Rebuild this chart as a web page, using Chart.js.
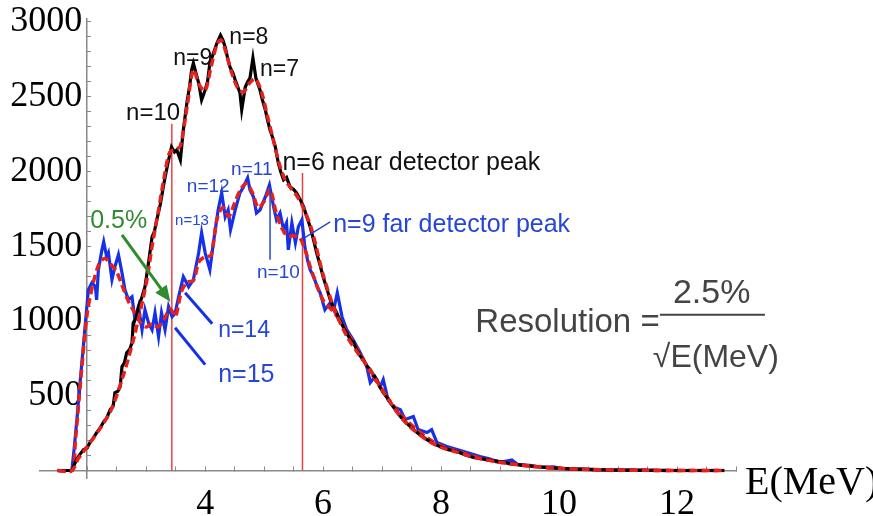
<!DOCTYPE html>
<html>
<head>
<meta charset="utf-8">
<script src="https://cdn.jsdelivr.net/npm/chart.js@4/dist/chart.umd.min.js"></script>
<style>
html,body{margin:0;padding:0;background:#fff;}
#wrap{width:873px;height:516px;}
</style>
</head>
<body>
<div id="wrap"><canvas id="c" width="873" height="516"></canvas></div>
<script>
// ---- Data ----
const nearX = [1.50,1.60,1.74,1.82,1.88,1.94,2.00,2.05,2.10,2.16,2.22,2.28,2.33,2.39,2.44,2.47,2.52,2.56,2.59,2.63,2.67,2.72,2.76,2.78,2.83,2.87,2.92,2.98,3.04,3.10,3.14,3.18,3.24,3.29,3.34,3.38,3.43,3.48,3.52,3.58,3.63,3.69,3.74,3.77,3.80,3.85,3.89,3.94,4.00,4.04,4.08,4.14,4.20,4.26,4.30,4.34,4.38,4.42,4.47,4.51,4.55,4.59,4.62,4.68,4.72,4.76,4.81,4.86,4.93,4.97,5.02,5.06,5.10,5.15,5.19,5.24,5.28,5.33,5.38,5.44,5.50,5.55,5.60,5.67,5.72,5.78,5.84,5.89,5.95,6.00,6.06,6.12,6.17,6.23,6.28,6.34,6.40,6.46,6.51,6.57,6.62,6.68,6.74,6.80,6.85,6.91,6.96,7.02,7.08,7.14,7.22,7.31,7.42,7.53,7.64,7.76,7.87,7.98,8.12,8.27,8.40,8.55,8.70,8.85,9.00,9.15,9.30,9.45,9.60,9.80,10.00,10.30,10.60,11.00,11.50,12.00,12.50,12.80];
const nearY = [0,0,0,73,110,140,150,190,215,254,285,327,350,407,430,520,530,561,695,720,788,810,855,988,1020,1096,1150,1229,1389,1563,1600,1677,1780,1897,2000,2077,2164,2130,2144,2077,2278,2458,2580,2679,2725,2650,2592,2478,2545,2600,2725,2790,2859,2912,2880,2832,2760,2699,2660,2612,2570,2525,2412,2565,2600,2625,2759,2625,2545,2480,2412,2340,2278,2220,2164,2057,2000,1944,1960,1897,1880,1857,1820,1764,1700,1630,1540,1456,1370,1296,1220,1142,1100,1055,1010,962,920,875,860,808,770,741,700,675,640,608,560,521,490,454,410,361,315,274,240,207,180,160,140,127,105,87,78,68,60,48,40,33,27,20,14,9,6,3,1,0,0,0];

const nearFitX = [1.50,1.74,1.85,2.00,2.20,2.40,2.60,2.80,3.00,3.10,3.20,3.30,3.40,3.50,3.58,3.70,3.80,3.90,4.00,4.10,4.20,4.27,4.35,4.45,4.55,4.65,4.75,4.85,4.95,5.05,5.15,5.25,5.35,5.45,5.55,5.65,5.80,6.00,6.20,6.40,6.60,6.80,7.00,7.20,7.40,7.60,7.80,8.00,8.30,8.60,9.00,9.50,10.00,10.50,11.00,11.50,12.00,12.80];
const nearFitY = [0,0,80,160,270,400,620,900,1250,1500,1720,1950,2130,2150,2170,2450,2680,2580,2540,2700,2850,2880,2800,2660,2560,2530,2590,2620,2540,2380,2220,2060,1950,1890,1840,1770,1620,1310,1070,900,780,670,540,420,320,250,195,155,120,85,55,30,15,7,3,1,0,0];

const farX = [1.50,1.60,1.74,1.78,1.83,1.87,1.91,1.97,2.02,2.08,2.14,2.16,2.19,2.25,2.28,2.33,2.36,2.42,2.47,2.53,2.59,2.64,2.70,2.76,2.81,2.87,2.93,2.98,3.04,3.10,3.15,3.21,3.26,3.32,3.38,3.44,3.49,3.55,3.63,3.72,3.80,3.89,3.94,4.00,4.08,4.14,4.22,4.28,4.34,4.39,4.43,4.51,4.59,4.65,4.72,4.76,4.82,4.87,4.93,5.02,5.09,5.16,5.21,5.27,5.33,5.38,5.41,5.47,5.53,5.58,5.64,5.69,5.74,5.78,5.84,5.90,5.95,6.03,6.12,6.18,6.24,6.32,6.40,6.51,6.63,6.74,6.80,6.88,6.97,7.02,7.10,7.19,7.31,7.39,7.53,7.61,7.76,7.84,7.93,8.10,8.27,8.44,8.66,8.80,9.00,9.20,9.30,9.50,9.70,9.90,10.10,10.40,10.70,11.00,11.50,12.00,12.80];
const farY = [0,0,0,150,361,550,721,988,1209,1256,1229,1142,1343,1476,1530,1430,1456,1276,1363,1443,1323,1209,1142,1162,1009,1096,942,1075,988,942,1055,895,1055,942,1096,1029,1050,1162,1296,1229,1276,1456,1590,1456,1343,1523,1743,1857,1697,1743,1610,1743,1857,1897,1957,1877,1830,1723,1743,1830,1910,1764,1677,1723,1610,1657,1476,1657,1523,1630,1677,1496,1400,1343,1296,1229,1189,1075,1122,1075,1189,1029,942,875,788,695,588,628,561,608,474,427,407,341,361,274,254,274,187,160,140,120,94,80,55,70,40,35,22,25,12,10,5,3,1,0,0];

const farFitX = [1.50,1.74,1.80,1.90,2.00,2.10,2.20,2.30,2.40,2.50,2.60,2.70,2.80,2.90,3.00,3.10,3.20,3.30,3.40,3.45,3.50,3.60,3.70,3.80,3.90,4.00,4.10,4.20,4.30,4.40,4.50,4.60,4.70,4.80,4.90,5.00,5.10,5.20,5.30,5.40,5.50,5.60,5.70,5.80,6.00,6.20,6.40,6.60,6.80,7.00,7.20,7.40,7.60,7.80,8.00,8.30,8.60,9.00,9.50,10.00,10.50,11.00,12.00,12.80];
const farFitY = [0,0,200,650,1050,1250,1380,1420,1380,1330,1230,1130,1060,990,960,980,960,1010,1080,1060,1030,1200,1260,1270,1400,1430,1440,1680,1760,1700,1790,1880,1920,1860,1760,1800,1880,1730,1620,1570,1570,1560,1470,1340,1140,1050,930,800,660,540,430,340,270,210,165,125,90,55,30,15,7,3,0,0];

// vertical reference lines (energy, height)
const refLineX = [3.435, 5.65];
const refLineTop = [2320, 1990];

// axis ticks
const xTickValues = [2,2.5,3,3.5,4,4.5,5,5.5,6,6.5,7,7.5,8,8.5,9,9.5,10,10.5,11,11.5,12,12.5,13];
const xTickLabels = [4,6,8,10,12];
const yTickValues = [0,100,200,300,400,500,600,700,800,900,1000,1100,1200,1300,1400,1500,1600,1700,1800,1900,2000,2100,2200,2300,2400,2500,2600,2700,2800,2900,3000];
const yTickLabels = [500,1000,1500,2000,2500,3000];

// ---- Build ----
const pts = (xs, ys) => xs.map((x, i) => ({x: x, y: ys[i]}));
const RED = '#e8201c';
const BLUE = '#1530e8';

const datasets = [
  {data: pts(nearFitX, nearFitY), borderColor: RED, borderWidth: 3.5, borderDash: [8,4], tension: 0.3, order: 0},
  {data: pts(nearX, nearY), borderColor: '#000', borderWidth: 3.2, tension: 0, order: 1},
  {data: pts(farFitX, farFitY), borderColor: RED, borderWidth: 3.5, borderDash: [8,4], tension: 0.3, order: 2},
  {data: pts(farX, farY), borderColor: BLUE, borderWidth: 3.2, tension: 0, order: 3}
];
refLineX.forEach((x, i) => {
  datasets.push({data: [{x: x, y: 0}, {x: x, y: refLineTop[i]}], borderColor: '#ee4040', borderWidth: 1.5, order: 5});
});
datasets.forEach(d => { d.pointRadius = 0; d.fill = false; });

const annotations = [
  {t:'n=10', x:2.66, y:2345, size:24, color:'#111'},
  {t:'n=9', x:3.46, y:2712, size:23, color:'#111'},
  {t:'n=8', x:4.41, y:2852, size:23, color:'#111'},
  {t:'n=7', x:4.93, y:2639, size:23, color:'#111'},
  {t:'n=6 near detector peak', x:5.31, y:2011, size:25, color:'#111'},
  {t:'n=12', x:3.69, y:1864, size:19, color:'#2646d6'},
  {t:'n=11', x:4.44, y:1977, size:19, color:'#2646d6'},
  {t:'n=13', x:3.49, y:1643, size:15, color:'#2646d6'},
  {t:'n=10', x:4.88, y:1289, size:19, color:'#2646d6'},
  {t:'n=9 far detector peak', x:6.17, y:1597, size:25, color:'#2646d6'},
  {t:'n=14', x:4.22, y:890, size:23, color:'#2646d6'},
  {t:'n=15', x:4.22, y:595, size:25, color:'#2646d6'},
  {t:'0.5%', x:2.05, y:1623, size:25, color:'#2e8b2e'},
  {t:'Resolution =', x:8.58, y:929, size:33, color:'#444'},
  {t:'2.5%', x:11.93, y:1122, size:34, color:'#444'},
  {t:'\u221AE(MeV)', x:11.59, y:695, size:32, color:'#444'}
];
const leaders = [
  {x1:5.10, y1:1897, x2:5.10, y2:1409, w:1.5, color:'#2646d6'},
  {x1:6.12, y1:1663, x2:5.69, y2:1557, w:1.5, color:'#2646d6'},
  {x1:3.66, y1:1189, x2:4.12, y2:982, w:3, color:'#1530e8'},
  {x1:3.49, y1:955, x2:4.00, y2:708, w:3, color:'#1530e8'},
  {x1:11.71, y1:1042, x2:13.49, y2:1042, w:2, color:'#444'}
];
const arrow = {x1:2.59, y1:1576, x2:3.41, y2:1129, color:'#2e8b2e'};

const annotPlugin = {
  id: 'annot',
  beforeDraw(chart) {
    // y labels sit a few pixels left of the centred y axis
    const ys = chart.scales.y;
    if (!ys._shiftPatched) {
      const orig = ys._computeLabelItems;
      ys._computeLabelItems = function(ca) {
        const items = orig.call(this, ca);
        items.forEach(it => { it.options.translation[0] -= 5; });
        return items;
      };
      ys._shiftPatched = true;
      ys._labelItems = null;
    }
  },
  afterDraw(chart) {
    const ctx = chart.ctx, sx = chart.scales.x, sy = chart.scales.y;
    const px = v => sx.getPixelForValue(v), py = v => sy.getPixelForValue(v);
    ctx.save();
    leaders.forEach(l => {
      ctx.strokeStyle = l.color; ctx.lineWidth = l.w;
      ctx.beginPath(); ctx.moveTo(px(l.x1), py(l.y1)); ctx.lineTo(px(l.x2), py(l.y2)); ctx.stroke();
    });
    // arrow
    const ax1 = px(arrow.x1), ay1 = py(arrow.y1), ax2 = px(arrow.x2), ay2 = py(arrow.y2);
    const ang = Math.atan2(ay2 - ay1, ax2 - ax1);
    ctx.strokeStyle = arrow.color; ctx.fillStyle = arrow.color; ctx.lineWidth = 3;
    ctx.beginPath(); ctx.moveTo(ax1, ay1); ctx.lineTo(ax2 - 8*Math.cos(ang), ay2 - 8*Math.sin(ang)); ctx.stroke();
    ctx.beginPath();
    ctx.moveTo(ax2, ay2);
    ctx.lineTo(ax2 - 16*Math.cos(ang) + 7*Math.sin(ang), ay2 - 16*Math.sin(ang) - 7*Math.cos(ang));
    ctx.lineTo(ax2 - 16*Math.cos(ang) - 7*Math.sin(ang), ay2 - 16*Math.sin(ang) + 7*Math.cos(ang));
    ctx.closePath(); ctx.fill();
    // texts
    ctx.textAlign = 'left'; ctx.textBaseline = 'alphabetic';
    annotations.forEach(a => {
      ctx.font = a.size + 'px "Liberation Sans", Arial, sans-serif';
      ctx.fillStyle = a.color;
      ctx.fillText(a.t, px(a.x), py(a.y));
    });
    // axis title
    ctx.font = '40px "Liberation Serif", "Times New Roman", serif';
    ctx.fillStyle = '#000';
    ctx.fillText('E(MeV)', chart.chartArea.right + 9, py(0) + 23);
    ctx.restore();
  }
};

new Chart(document.getElementById('c'), {
  type: 'line',
  data: {datasets: datasets},
  options: {
    animation: false, responsive: false, devicePixelRatio: 1,
    layout: {padding: {left: 40, right: 137, top: 19, bottom: 38}},
    plugins: {legend: {display: false}, tooltip: {enabled: false}},
    scales: {
      x: {
        type: 'linear', min: 1.2, max: 13, position: {y: 0},
        afterBuildTicks: s => { s.ticks = xTickValues.map(v => ({value: v})); },
        ticks: {
          autoSkip: false, maxRotation: 0, padding: 21, color: '#000',
          font: {family: '"Liberation Serif", "Times New Roman", serif', size: 36, lineHeight: 1},
          callback: v => xTickLabels.includes(v) ? String(v) : ''
        },
        grid: {drawOnChartArea: false, drawTicks: true, tickLength: -5, tickColor: '#888', tickWidth: 1},
        border: {display: true, color: '#888', width: 1.5}
      },
      y: {
        type: 'linear', min: -50, max: 3020, position: {x: 2},
        afterBuildTicks: s => { s.ticks = yTickValues.map(v => ({value: v})); },
        ticks: {
          autoSkip: false, padding: 0, color: '#000',
          font: {family: '"Liberation Serif", "Times New Roman", serif', size: 36, lineHeight: 1},
          callback: v => yTickLabels.includes(v) ? String(v) : ''
        },
        grid: {drawOnChartArea: false, drawTicks: true, tickLength: -5, tickColor: '#888', tickWidth: 1},
        border: {display: true, color: '#888', width: 1.5}
      }
    }
  },
  plugins: [annotPlugin]
});
</script>
</body>
</html>
